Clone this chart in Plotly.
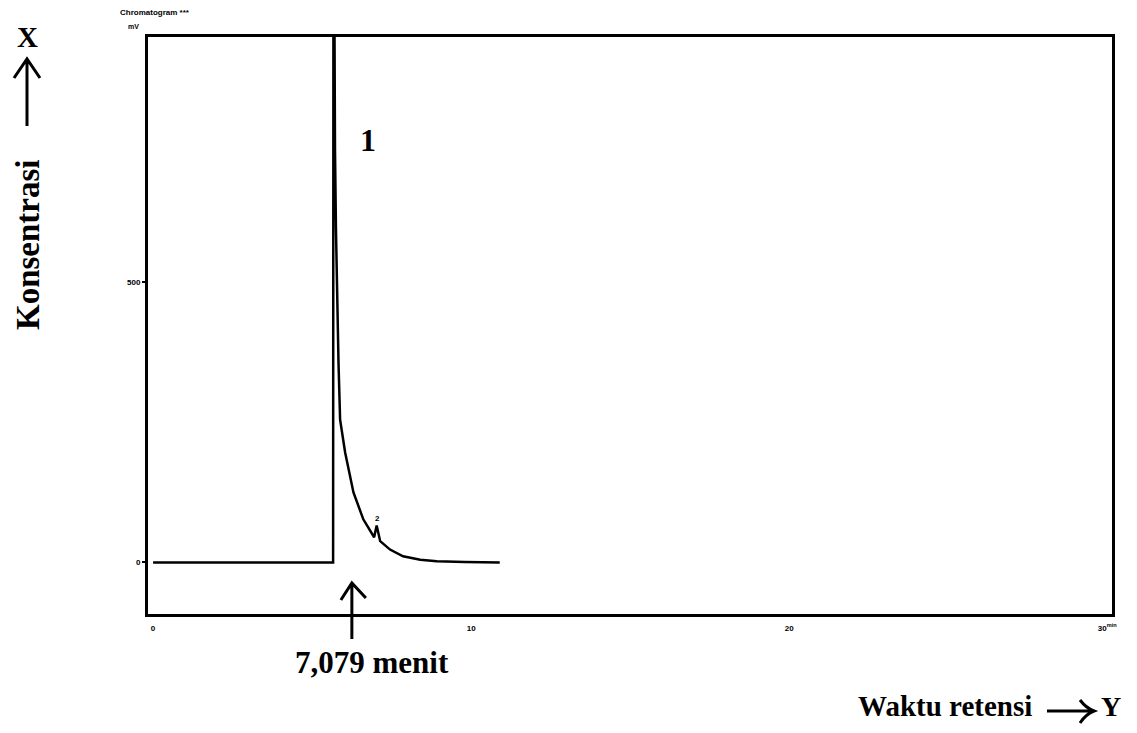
import plotly.graph_objects as go

# ---- data ----
retention_time = [0, 5.66, 5.67, 5.70, 5.72, 5.75, 5.83, 5.88, 6.04, 6.14, 6.30, 6.61,
                  6.88, 6.95, 7.03, 7.14, 7.45, 7.86, 8.40, 8.92, 9.80, 10.9]
signal_mv = [0, 0, 1000, 1000, 736, 594, 356, 255, 196, 166, 125, 77,
             50, 45, 66, 38, 23, 11, 5, 2.3, 1, 0]
x_tick_vals = [0, 10, 20, 30]
x_tick_text = ["0", "10", "20", "30<sup>min</sup>"]
y_tick_vals = [0, 500]
y_tick_text = ["0", "500"]
peak_labels = ["1", "2"]
peak_label_x = [6.76, 7.05]
peak_label_y = [754, 66]
retention_label = "7,079 menit"
retention_arrow_x = 6.25
X_RANGE = [-0.16, 30.15]
Y_RANGE = [-92, 938]

# ---- layout geometry (page pixels, page has an 8px body margin) ----
OFF = 8
W, H = 1137 - 2 * OFF, 733 - 2 * OFF
L, R, T, B = 148 - OFF, 1112 - OFF, 37 - OFF, 614 - OFF
PW, PH = R - L, B - T


def px(x):
    return (x - OFF - L) / PW


def py(y):
    return (B - (y - OFF)) / PH


SERIF = "Liberation Serif"
fig = go.Figure()
fig.add_trace(go.Scatter(x=retention_time, y=signal_mv, mode="lines",
                         line=dict(color="black", width=2.5), hoverinfo="skip",
                         showlegend=False))

fig.update_layout(
    width=W, height=H,
    margin=dict(l=L, r=W - R, t=T, b=H - B),
    paper_bgcolor="white", plot_bgcolor="white",
    showlegend=False,
    xaxis=dict(range=X_RANGE, tickvals=x_tick_vals, ticktext=x_tick_text,
               showgrid=False, zeroline=False, showline=True, mirror=True,
               linecolor="black", linewidth=3, ticks="", ticklabelstandoff=4,
               tickfont=dict(family="Liberation Sans", size=8, color="black", weight="bold")),
    yaxis=dict(range=Y_RANGE, tickvals=y_tick_vals, ticktext=y_tick_text,
               showgrid=False, zeroline=False, showline=True, mirror=True,
               linecolor="black", linewidth=3, ticks="outside", ticklen=3,
               tickcolor="black", tickwidth=2,
               tickfont=dict(family="Liberation Sans", size=8, color="black", weight="bold")),
)

ann = []
ann.append(dict(text="Chromatogram ***", xref="paper", yref="paper", x=px(118), y=py(13),
                xanchor="left", yanchor="middle", showarrow=False,
                font=dict(family="Liberation Sans", size=8, color="black", weight="bold")))
ann.append(dict(text="mV", xref="paper", yref="paper", x=px(126), y=py(27),
                xanchor="left", yanchor="middle", showarrow=False,
                font=dict(family="Liberation Sans", size=7, color="black", weight="bold")))
ann.append(dict(text=peak_labels[0], x=peak_label_x[0], y=peak_label_y[0], showarrow=False,
                font=dict(family=SERIF, size=32, color="black", weight="bold")))
ann.append(dict(text=peak_labels[1], x=peak_label_x[1], y=peak_label_y[1], showarrow=False,
                yanchor="bottom",
                font=dict(family="Liberation Sans", size=8, color="black", weight="bold")))
ann.append(dict(text=retention_label, xref="paper", yref="paper", x=px(372), y=py(662),
                showarrow=False, xanchor="center", yanchor="middle",
                font=dict(family=SERIF, size=31, color="black", weight="bold")))
ann.append(dict(text="X", xref="paper", yref="paper", x=px(27), y=py(37),
                showarrow=False, xanchor="center", yanchor="middle",
                font=dict(family=SERIF, size=29, color="black", weight="bold")))
ann.append(dict(text="Konsentrasi", xref="paper", yref="paper", x=px(28), y=py(245),
                showarrow=False, xanchor="center", yanchor="middle", textangle=-90,
                font=dict(family=SERIF, size=33, color="black", weight="bold")))
ann.append(dict(text="Waktu retensi", xref="paper", yref="paper", x=px(1034), y=py(706),
                showarrow=False, xanchor="right", yanchor="middle",
                font=dict(family=SERIF, size=29, color="black", weight="bold")))
ann.append(dict(text="Y", xref="paper", yref="paper", x=px(1111), y=py(706),
                showarrow=False, xanchor="center", yanchor="middle",
                font=dict(family=SERIF, size=28, color="black", weight="bold")))
fig.update_layout(annotations=ann)

shapes = []
shapes.append(dict(type="path", xref="paper", yref="paper",
                   path=f"M {px(27)},{py(126)} L {px(27)},{py(59)} "
                        f"M {px(14)},{py(78)} L {px(27)},{py(59)} L {px(40)},{py(78)}",
                   line=dict(color="black", width=3)))
shapes.append(dict(type="path", xref="paper", yref="paper",
                   path=f"M {px(1047)},{py(711)} L {px(1093)},{py(711)} "
                        f"M {px(1080)},{py(700)} Q {px(1086)},{py(708)} {px(1094)},{py(711)} "
                        f"Q {px(1086)},{py(714)} {px(1080)},{py(723)}",
                   line=dict(color="black", width=3)))
ax_px = 148 + (retention_arrow_x - X_RANGE[0]) / (X_RANGE[1] - X_RANGE[0]) * PW
shapes.append(dict(type="path", xref="paper", yref="paper",
                   path=f"M {px(ax_px)},{py(639)} L {px(ax_px)},{py(583)} "
                        f"M {px(ax_px - 11)},{py(600)} L {px(ax_px)},{py(583)} L {px(ax_px + 14)},{py(598)}",
                   line=dict(color="black", width=3)))
fig.update_layout(shapes=shapes)

fig.write_html("out.html")
